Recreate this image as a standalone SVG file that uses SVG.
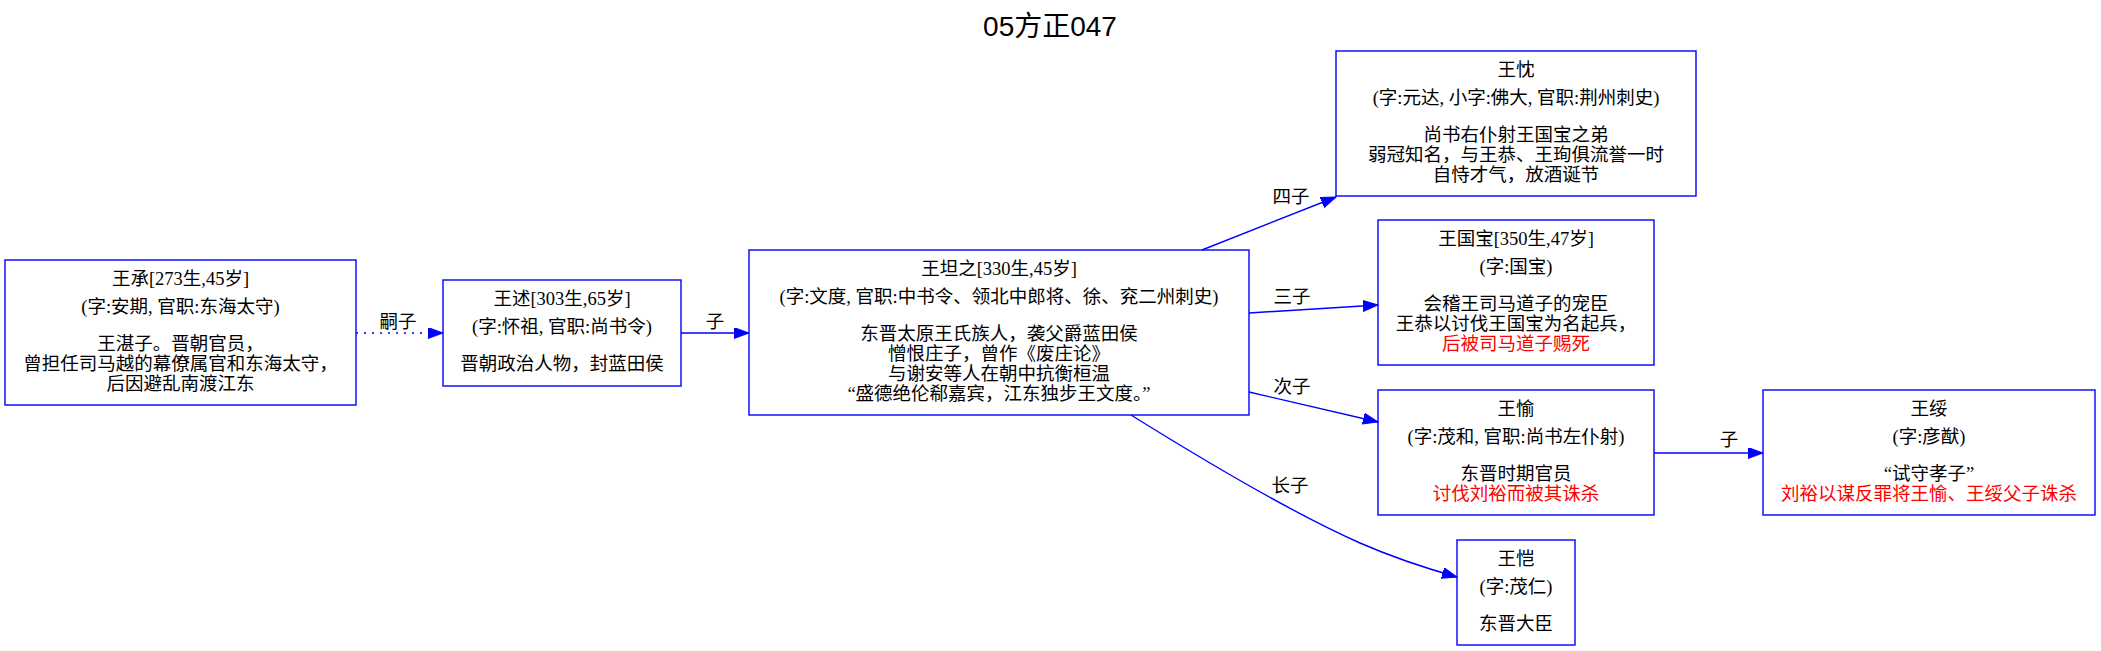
<svg xmlns="http://www.w3.org/2000/svg" width="2101" height="651" viewBox="0 0 2101 651">
<style>
.bg{fill:#ffffff}
.box{fill:none;stroke:#0000ff;stroke-width:1.4}
.t{font-family:"Liberation Serif","Noto Sans CJK SC",serif;font-size:18.5px;fill:#000000;text-anchor:middle}
.r{fill:#ff0000}
.title{font-family:"Liberation Sans","Noto Sans CJK SC",sans-serif;font-size:28px;fill:#000000;text-anchor:middle}
.e{fill:none;stroke:#0000ff;stroke-width:1.4}
.dot{stroke-dasharray:2,6}
</style>
<defs>
<marker id="arr" markerUnits="userSpaceOnUse" markerWidth="16" markerHeight="12" refX="15" refY="5.5" orient="auto">
<path d="M0,0 L15,5.5 L0,11 z" fill="#0000ff" stroke="#0000ff" stroke-width="1"/>
</marker>
</defs>
<rect class="bg" x="0" y="0" width="2101" height="651"/>
<text class="title" x="1050" y="36">05方正047</text>

<g id="edges">
<path class="e dot" d="M356,333 L443,333" marker-end="url(#arr)"/>
<text class="t" x="398" y="328">嗣子</text>
<path class="e" d="M681,333 L749,333" marker-end="url(#arr)"/>
<text class="t" x="715" y="328">子</text>
<path class="e" d="M1202,250 L1336,197" marker-end="url(#arr)"/>
<text class="t" x="1291" y="203">四子</text>
<path class="e" d="M1249,313 L1378,305" marker-end="url(#arr)"/>
<text class="t" x="1292" y="303">三子</text>
<path class="e" d="M1249,392 L1378,422" marker-end="url(#arr)"/>
<text class="t" x="1292" y="393">次子</text>
<path class="e" d="M1131,415 C1200,458 1290,512 1360,543 C1392,557 1425,568 1457,577" marker-end="url(#arr)"/>
<text class="t" x="1290" y="492">长子</text>
<path class="e" d="M1654,453 L1763,453" marker-end="url(#arr)"/>
<text class="t" x="1729" y="446">子</text>
</g>

<g id="wangcheng">
<rect class="box" x="5" y="260" width="351" height="145"/>
<text class="t" x="180.5" y="285">王承[273生,45岁]</text>
<text class="t" x="180.5" y="313">(字:安期, 官职:东海太守)</text>
<text class="t" x="180.5" y="350">王湛子。晋朝官员，</text>
<text class="t" x="180.5" y="370">曾担任司马越的幕僚属官和东海太守，</text>
<text class="t" x="180.5" y="390">后因避乱南渡江东</text>
</g>

<g id="wangshu">
<rect class="box" x="443" y="280" width="238" height="106"/>
<text class="t" x="562" y="305">王述[303生,65岁]</text>
<text class="t" x="562" y="333">(字:怀祖, 官职:尚书令)</text>
<text class="t" x="562" y="370">晋朝政治人物，封蓝田侯</text>
</g>

<g id="wangtanzhi">
<rect class="box" x="749" y="250" width="500" height="165"/>
<text class="t" x="999" y="275">王坦之[330生,45岁]</text>
<text class="t" x="999" y="303">(字:文度, 官职:中书令、领北中郎将、徐、兖二州刺史)</text>
<text class="t" x="999" y="340">东晋太原王氏族人，袭父爵蓝田侯</text>
<text class="t" x="999" y="360">憎恨庄子，曾作《废庄论》</text>
<text class="t" x="999" y="380">与谢安等人在朝中抗衡桓温</text>
<text class="t" x="999" y="400">“盛德绝伦郗嘉宾，江东独步王文度。”</text>
</g>

<g id="wangchen">
<rect class="box" x="1336" y="51" width="360" height="145"/>
<text class="t" x="1516" y="76">王忱</text>
<text class="t" x="1516" y="104">(字:元达, 小字:佛大, 官职:荆州刺史)</text>
<text class="t" x="1516" y="141">尚书右仆射王国宝之弟</text>
<text class="t" x="1516" y="161">弱冠知名，与王恭、王珣俱流誉一时</text>
<text class="t" x="1516" y="181">自恃才气，放酒诞节</text>
</g>

<g id="wangguobao">
<rect class="box" x="1378" y="220" width="276" height="145"/>
<text class="t" x="1516" y="245">王国宝[350生,47岁]</text>
<text class="t" x="1516" y="273">(字:国宝)</text>
<text class="t" x="1516" y="310">会稽王司马道子的宠臣</text>
<text class="t" x="1516" y="330">王恭以讨伐王国宝为名起兵，</text>
<text class="t r" x="1516" y="350">后被司马道子赐死</text>
</g>

<g id="wangyu">
<rect class="box" x="1378" y="390" width="276" height="125"/>
<text class="t" x="1516" y="415">王愉</text>
<text class="t" x="1516" y="443">(字:茂和, 官职:尚书左仆射)</text>
<text class="t" x="1516" y="480">东晋时期官员</text>
<text class="t r" x="1516" y="500">讨伐刘裕而被其诛杀</text>
</g>

<g id="wangsui">
<rect class="box" x="1763" y="390" width="332" height="125"/>
<text class="t" x="1929" y="415">王绥</text>
<text class="t" x="1929" y="443">(字:彦猷)</text>
<text class="t" x="1929" y="480">“试守孝子”</text>
<text class="t r" x="1929" y="500">刘裕以谋反罪将王愉、王绥父子诛杀</text>
</g>

<g id="wangkai">
<rect class="box" x="1457" y="540" width="118" height="105"/>
<text class="t" x="1516" y="565">王恺</text>
<text class="t" x="1516" y="593">(字:茂仁)</text>
<text class="t" x="1516" y="630">东晋大臣</text>
</g>
</svg>
